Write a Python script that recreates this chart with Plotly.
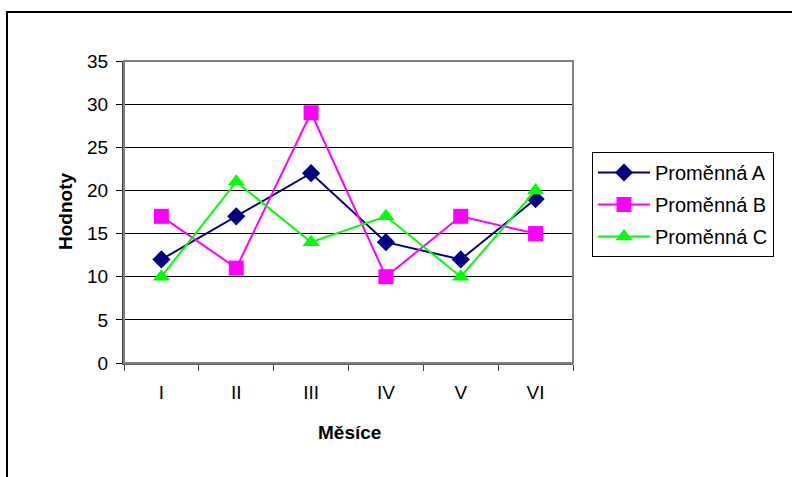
import plotly.graph_objects as go

months = ["I", "II", "III", "IV", "V", "VI"]
var_a = [12, 17, 22, 14, 12, 19]
var_b = [17, 11, 29, 10, 17, 15]
var_c = [10, 21, 14, 17, 10, 20]
names = ["Proměnná A", "Proměnná B", "Proměnná C"]
y_ticks = [0, 5, 10, 15, 20, 25, 30, 35]

W, H = 792, 477
px = lambda x: x / W
py = lambda y: 1 - y / H

fig = go.Figure()
fig.add_trace(go.Scatter(x=months, y=var_a, name=names[0], mode="lines+markers", legendgroup="a",
                         line=dict(color="#000080", width=2),
                         marker=dict(symbol="diamond", size=14, color="#000080")))
fig.add_trace(go.Scatter(x=months, y=var_b, name=names[1], mode="lines+markers", legendgroup="b",
                         line=dict(color="#FF00FF", width=2),
                         marker=dict(symbol="square", size=15, color="#FF00FF")))
fig.add_trace(go.Scatter(x=months, y=var_c, name=names[2], mode="lines+markers", legendgroup="c",
                         line=dict(color="#00FF00", width=2),
                         marker=dict(symbol="triangle-up", size=15, color="#00FF00")))

font = dict(family="Liberation Sans, Arial, sans-serif", size=19, color="black")

fig.update_layout(
    width=W, height=H,
    margin=dict(l=0, r=0, t=0, b=0),
    paper_bgcolor="white", plot_bgcolor="white",
    font=font,
    showlegend=True,
    legend=dict(x=px(592), y=py(152), xanchor="left", yanchor="top",
                bordercolor="black", borderwidth=1, bgcolor="white",
                font=dict(size=20), tracegroupgap=3, itemwidth=52),
    xaxis=dict(type="category", domain=[px(124), px(573)], range=[-0.5, 5.5],
               tickson="boundaries", ticks="outside", ticklen=6, tickcolor="#404040",
               showgrid=False, showline=True, linecolor="#606060", linewidth=2,
               automargin=False, tickfont=dict(size=19), ticklabelstandoff=11),
    yaxis=dict(domain=[py(363), py(61)], range=[0, 35], tickvals=y_ticks,
               ticks="outside", ticklen=6, tickcolor="black",
               showgrid=True, gridcolor="black", gridwidth=1,
               showline=True, linecolor="#404040", linewidth=2,
               zeroline=False, automargin=False, tickfont=dict(size=19),
               ticklabelstandoff=4),
    annotations=[
        dict(text="<b>Hodnoty</b>", x=px(65), y=py(212), xref="paper", yref="paper",
             xanchor="center", yanchor="middle",
             textangle=-90, showarrow=False, font=dict(size=19)),
        dict(text="<b>Měsíce</b>", x=px(349), y=py(432), xref="paper", yref="paper",
             xanchor="center", yanchor="middle",
             showarrow=False, font=dict(size=19)),
    ],
    shapes=[
        dict(type="rect", xref="x domain", yref="y domain", x0=0, x1=1, y0=0, y1=1,
             line=dict(color="#808080", width=2)),
        dict(type="rect", xref="paper", yref="paper", x0=px(7), x1=1.05, y0=-0.05, y1=py(12),
             line=dict(color="black", width=2)),
    ],
)

fig.write_html("out.html")
